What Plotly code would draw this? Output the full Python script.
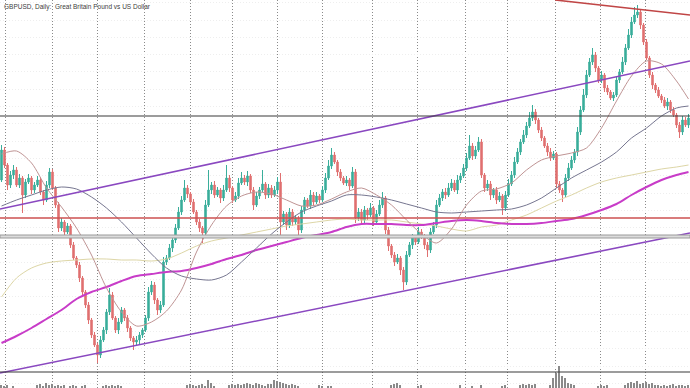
import plotly.graph_objects as go

# ---------------- data (price in pips, relative scale) ----------------
first_open = 220
close = [
    250,235,215,225,230,215,222,205,218,222,
    210,215,220,208,200,215,228,212,195,172,
    178,168,174,155,142,135,122,108,95,80,
    65,55,45,60,70,88,105,82,70,78,
    90,82,72,62,58,60,65,70,82,108,
    115,100,90,95,138,142,152,160,172,188,
    200,212,206,198,188,178,172,167,195,210,
    215,205,210,202,210,222,212,200,204,217,
    222,218,224,210,195,204,210,216,205,212,
    205,210,218,178,186,175,188,178,182,170,
    190,200,194,205,198,204,200,210,222,234,
    245,238,228,222,217,220,214,228,182,188,
    180,190,185,192,178,186,195,202,170,154,
    145,138,142,130,118,145,155,162,158,168,
    164,155,150,168,175,195,202,208,205,212,
    217,210,220,224,232,242,254,244,250,258,
    225,212,216,205,210,200,204,192,205,216,
    225,238,248,258,265,274,282,288,280,270,
    262,254,248,242,246,216,210,205,222,232,
    240,248,268,290,305,325,338,345,332,320,
    325,312,308,302,305,320,328,338,352,365,
    378,385,388,375,358,342,325,315,310,304,
    300,294,298,290,285,275,268,280,275,282,
]
wick_up = [
    5,3,2,4,5,3,4,2,3,4, 2,3,4,3,2,4,4,3,2,3, 4,2,3,2,3,2,3,2,2,3,
    2,3,2,4,3,3,7,3,2,4, 3,2,3,2,2,4,3,2,3,5, 4,3,2,4,5,3,4,3,4,5,
    4,8,3,2,3,2,3,2,5,20, 3,4,3,2,5,13,3,2,4,5, 6,3,5,2,3,4,3,14,2,4,
    3,4,5,9,3,2,4,3,3,2, 4,3,2,5,3,4,2,4,5,6, 7,3,2,3,2,4,2,5,3,4,
    3,4,2,5,2,4,5,6,2,3, 2,3,4,2,3,4,3,4,2,5, 3,2,3,4,3,5,4,3,4,5,
    4,3,5,3,4,5,11,3,4,5, 3,2,4,3,2,3,4,2,4,5, 4,5,4,3,5,4,6,7,3,2,
    3,2,3,4,3,2,3,2,4,5, 4,3,5,4,6,5,4,7,3,2, 4,2,3,2,3,4,3,5,4,6,
    5,8,7,3,2,3,2,3,2,3, 2,3,4,2,3,2,3,4,3,4,
]
wick_dn = [
    2,3,5,3,4,2,3,18,3,2, 4,3,2,3,5,2,3,2,3,4, 3,4,2,3,2,3,4,3,3,4,
    3,2,8,3,2,4,3,2,3,4, 2,3,4,3,8,3,4,3,2,3, 3,4,5,3,2,3,2,4,3,2,
    3,2,4,3,2,3,4,10,3,2, 4,3,2,5,3,2,4,3,2,3, 2,3,4,3,5,2,3,2,4,3,
    3,2,4,15,3,5,3,4,3,7, 3,4,2,3,4,2,3,2,3,2, 3,2,4,3,2,3,4,2,5,3,
    4,3,5,2,4,3,2,3,4,5, 3,4,2,5,8,3,2,4,3,2, 3,4,7,3,2,3,2,3,4,2,
    3,2,4,3,2,3,2,4,3,2, 3,4,3,5,3,4,2,7,3,2, 2,3,2,3,2,3,2,3,4,3,
    3,2,4,3,2,4,3,7,2,3, 2,3,4,3,2,3,2,3,4,3, 3,4,3,2,3,2,3,2,3,2,
    3,2,3,4,3,2,3,4,3,2, 3,2,4,3,2,3,6,3,2,3,
]
volume = [
    3,2,3,0,2,0,0,0,0,0, 0,0,3,4,2,5,3,4,2,3, 2,3,0,2,3,2,0,2,3,0,
    0,0,0,0,2,3,2,3,2,3, 2,0,0,0,0,0,0,0,0,0, 0,0,0,0,0,0,0,0,0,0,
    0,0,3,4,3,2,3,4,2,8, 5,2,0,0,0,0,3,4,3,4, 3,4,5,4,3,5,4,3,2,4,
    4,8,7,6,5,4,3,4,3,2, 0,0,0,0,0,0,3,2,0,2, 2,0,0,0,0,0,0,0,0,0,
    0,0,0,0,0,0,0,0,0,0, 3,4,5,3,0,0,0,0,0,2, 3,0,0,0,0,0,0,0,0,0,
    0,0,0,3,0,0,0,2,0,0, 3,0,0,0,0,0,0,2,3,0, 0,0,0,3,4,3,4,3,4,0,
    0,0,0,3,10,15,22,12,10,5, 4,3,0,0,0,0,0,0,0,2, 3,2,3,0,0,0,0,0,3,5,
    6,5,7,4,5,6,4,5,3,3, 2,3,2,3,4,2,3,3,2,3,
]

# moving averages sampled every 5 bars
ma_idx = list(range(0, 230, 5)) + [229]
ma_fast = [246,249,237,212,193,172,145,112,88,74,78,89,110,148,175,194,204,208,206,200,
           194,195,201,208,212,205,195,180,166,157,171,195,209,211,217,230,240,244,247,252,
           272,299,324,339,336,319,301]
ma_mid = [194,200,205,210,213,211,203,192,178,162,146,132,124,121,120,125,138,152,166,178,
          188,194,199,205,205,203,200,196,192,188,187,188,189,190,191,195,202,212,222,230,
          238,248,262,272,284,292,294]
ma_slow = [103,122,132,137,139,140,141,141,140,140,139,141,147,154,159,162,165,168,171,174,
           176,178,180,181,180,180,180,178,176,174,171,169,173,175,180,185,192,199,205,212,
           218,222,225,228,231,233,235]
ma_long = [57,64,72,81,90,101,108,113,119,124,126,128,129,132,136,141,145,150,154,158,
           162,165,168,173,176,176,176,175,175,177,179,180,179,177,176,176,177,179,181,185,
           190,196,205,213,220,225,228]

# drawn objects (bar index, price)
channel_upper = [(-0.5, 191), (229.5, 339)]
channel_lower = [(-0.5, 27), (229.5, 167)]
resistance = [(184.5, 400), (229.5, 385)]
level_black = [284, 28]
level_red = 182
level_gray = (162, 165)
grid_bars = [1.2, 17, 32, 47.5, 63, 77, 92, 107, 123.5, 138.5, 154.5, 168.5, 184.5, 199.5, 214.5]

title = "GBPUSD, Daily:  Great Britain Pound vs US Dollar"

# ---------------- build ----------------
n = len(close)
idx = list(range(n))
opens = [first_open] + close[:-1]
highs = [max(o, c) + u for o, c, u in zip(opens, close, wick_up)]
lows = [min(o, c) - d for o, c, d in zip(opens, close, wick_dn)]

fig = go.Figure()

fig.add_trace(go.Bar(x=idx, y=volume, yaxis="y2", marker_color="#8a8a8a",
                     marker_line_width=0, width=0.45, hoverinfo="skip"))

fig.add_trace(go.Candlestick(
    x=idx, open=opens, high=highs, low=lows, close=close,
    increasing=dict(line=dict(color="#3aae9b", width=1), fillcolor="#3aae9b"),
    decreasing=dict(line=dict(color="#e07070", width=1), fillcolor="#e07070"),
    whiskerwidth=0, hoverinfo="skip"))

for vals, col, w in [(ma_slow, "#ddd6a6", 1), (ma_long, "#c83cc8", 2),
                     (ma_mid, "#767690", 1), (ma_fast, "#bf9494", 1)]:
    fig.add_trace(go.Scatter(x=ma_idx, y=vals, mode="lines",
                             line=dict(color=col, width=w, shape="spline", smoothing=0.8),
                             hoverinfo="skip"))

shapes = []
for (x0, y0), (x1, y1) in [channel_upper, channel_lower]:
    shapes.append(dict(type="line", xref="x", yref="y", x0=x0, y0=y0, x1=x1, y1=y1,
                       line=dict(color="#8a48c0", width=1.6)))
(x0, y0), (x1, y1) = resistance
shapes.append(dict(type="line", xref="x", yref="y", x0=x0, y0=y0, x1=x1, y1=y1,
                   line=dict(color="#c04646", width=1.6)))
for lv in level_black:
    shapes.append(dict(type="line", xref="paper", yref="y", x0=0, x1=1, y0=lv, y1=lv,
                       line=dict(color="#3a3a3a", width=1.2)))
shapes.append(dict(type="line", xref="paper", yref="y", x0=0, x1=1, y0=level_red, y1=level_red,
                   line=dict(color="#cc5050", width=1.6)))
shapes.append(dict(type="rect", xref="paper", yref="y", x0=0, x1=1,
                   y0=level_gray[0], y1=level_gray[1],
                   fillcolor="#dcdcdc", line=dict(color="#9a9a9a", width=1)))

fig.update_layout(
    width=690, height=388, margin=dict(l=0, r=0, t=0, b=0),
    paper_bgcolor="white", plot_bgcolor="white", showlegend=False,
    shapes=shapes,
    xaxis=dict(range=[-0.5, 229.5], rangeslider=dict(visible=False),
               tickvals=grid_bars, showticklabels=False, ticks="",
               showgrid=True, gridcolor="#8a8a8a", griddash="1px,2px", gridwidth=1,
               zeroline=False, showline=False),
    yaxis=dict(range=[12, 400], showticklabels=False, ticks="", zeroline=False,
               showgrid=True, gridcolor="#eeeeee", griddash="1px,2px", tick0=380, dtick=17.3),
    yaxis2=dict(range=[0, 388], overlaying="y", visible=False),
    annotations=[dict(text=title, xref="paper", yref="paper", x=0.003, y=0.997,
                      xanchor="left", yanchor="top", showarrow=False,
                      font=dict(family="Liberation Sans Narrow, Liberation Sans, Arial", size=6.5,
                                color="#404040"))],
    bargap=0,
)

fig.write_html("out.html", config={"displayModeBar": False},
               post_script="document.body.style.margin='0';document.body.style.overflow='hidden';")
